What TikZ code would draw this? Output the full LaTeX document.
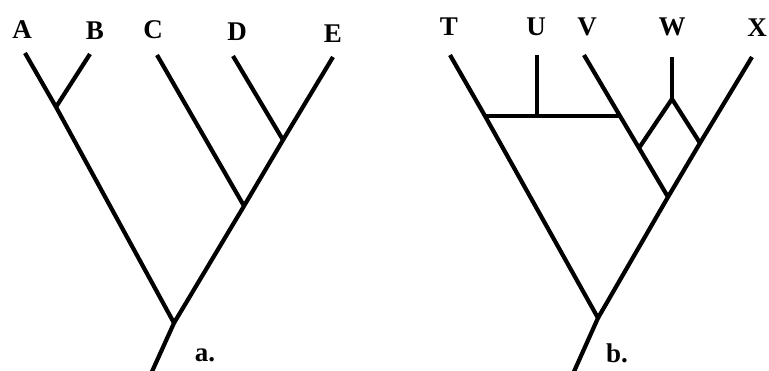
\documentclass[tikz,border=0pt]{standalone}
\usepackage{fontspec}
\setmainfont{Liberation Serif}
\begin{document}
\begin{tikzpicture}[x=1pt,y=-1pt,
  branch/.style={line width=4.2pt, line cap=butt, line join=miter},
  taxon/.style={font=\fontsize{27}{27}\selectfont\bfseries, inner sep=0pt},
  panellabel/.style={font=\fontsize{27}{27}\selectfont\bfseries, inner sep=0pt}]
\useasboundingbox (0,0) rectangle (769,371);
\begin{scope}
\clip (0,0) rectangle (769,371);
% ---------- panel a ----------
\node[taxon] (lA) at (22,30) {A};
\node[taxon] (lB) at (95,31) {B};
\node[taxon] (lC) at (153,30) {C};
\node[taxon] (lD) at (237,32) {D};
\node[taxon] (lE) at (333,34) {E};
\node[panellabel] (la) at (205,355) {a.};
\coordinate (tA) at (25,53);
\coordinate (tB) at (90,54);
\coordinate (tC) at (157,55);
\coordinate (tD) at (233,56);
\coordinate (tE) at (333,57);
\coordinate (jAB) at (56,107);
\coordinate (jDE) at (283,140);
\coordinate (jCDE) at (244,206);
\coordinate (ra) at (174,323);
\coordinate (sa) at (150,376);
\draw[branch] (tA) -- (jAB) -- (ra) -- (sa);
\draw[branch] (tB) -- (jAB);
\draw[branch] (tE) -- (jDE) -- (jCDE) -- (ra);
\draw[branch] (tD) -- (jDE);
\draw[branch] (tC) -- (jCDE);
% ---------- panel b ----------
\node[taxon] (lT) at (449,27) {T};
\node[taxon] (lU) at (536,27) {U};
\node[taxon] (lV) at (587,27) {V};
\node[taxon] (lW) at (672,27) {W};
\node[taxon] (lX) at (757,28) {X};
\node[panellabel] (lb) at (617,353) {b.};
\coordinate (tT) at (450,55);
\coordinate (tU) at (537,55);
\coordinate (tV) at (584,55);
\coordinate (tW) at (672,57);
\coordinate (tX) at (752,57);
\coordinate (bT) at (485,116);
\coordinate (bU) at (537,116);
\coordinate (bV) at (620,116);
\coordinate (wW) at (672,99);
\coordinate (dL) at (639,148);
\coordinate (dR) at (700,143);
\coordinate (jVX) at (668,197);
\coordinate (rb) at (598,318);
\coordinate (sb) at (572,376);
\draw[branch] (tT) -- (bT) -- (rb) -- (sb);
\draw[branch] (tX) -- (dR) -- (jVX) -- (rb);
\draw[branch] (tV) -- (bV) -- (dL) -- (jVX);
\draw[branch] (bT) -- (bU) -- (bV);
\draw[branch] (tU) -- (bU);
\draw[branch] (tW) -- (wW);
\draw[branch] (dL) -- (wW) -- (dR);
\end{scope}
\end{tikzpicture}
\end{document}
